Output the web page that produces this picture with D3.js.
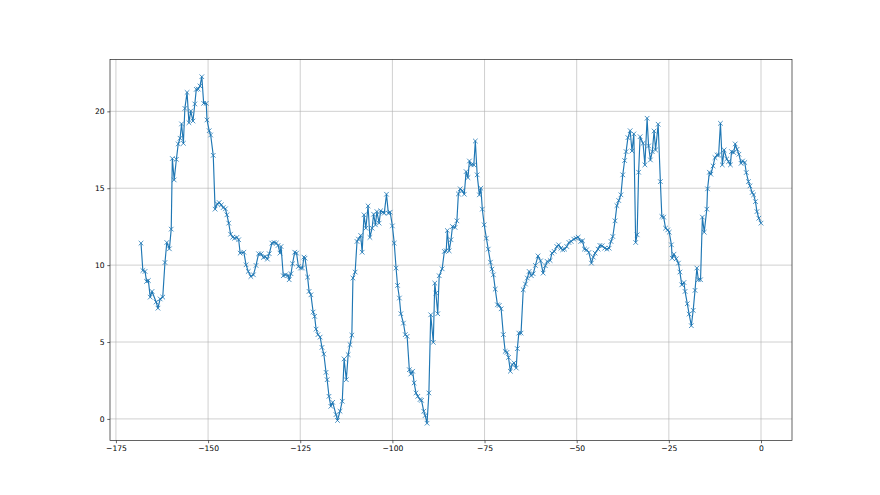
<!DOCTYPE html>
<html>
<head>
<meta charset="utf-8">
<script src="https://cdn.jsdelivr.net/npm/d3@7"></script>
<style>
  body { margin: 0; background: #fff; }
  .tick text { font-family: "DejaVu Sans", sans-serif; font-size: 7.6px; fill: #000; }
</style>
</head>
<body>
<script>
// values
var xs = [-168.2,-167.7,-167.1,-166.7,-166.2,-165.7,-165.2,-164.1,-163.6,-163.0,-162.3,-161.7,-161.2,-160.5,-160.0,-159.7,-159.2,-158.6,-158.1,-157.6,-157.2,-156.7,-156.3,-155.7,-155.2,-154.7,-154.1,-153.6,-153.2,-152.7,-152.2,-151.7,-151.2,-150.5,-150.3,-149.7,-149.3,-148.6,-148.1,-147.5,-147.0,-146.4,-145.9,-145.3,-144.9,-144.4,-143.9,-143.3,-142.8,-142.2,-141.7,-141.3,
  -140.3,-139.7,-139.1,-138.4,-137.7,-137.0,-136.3,-135.6,-135.0,-134.5,-133.9,-133.4,-132.7,-132.1,-131.5,-131.0,-130.5,-130.2,-129.6,-129.0,-128.3,-128.0,-127.5,-127.1,-126.5,-126.0,-125.5,-124.9,-124.4,-124.0,-123.7,-123.0,-122.6,-122.1,-121.5,-121.1,-120.7,-120.2,-119.6,-119.1,-118.6,-118.0,-117.7,-117.2,-116.7,-116.2,-115.3,-114.9,-114.2,
  -113.6,-113.1,-112.5,-112.0,-111.5,-111.0,-110.7,-110.1,-109.6,-109.2,-108.6,-108.2,-107.7,-107.2,-106.6,-106.1,-105.5,-105.1,-104.6,-104.2,-103.6,-103.2,-102.6,-102.2,-101.6,-101.1,-100.6,-100.0,-99.5,-99.0,-98.6,-98.1,-97.7,-97.0,-96.5,-96.0,-95.4,-95.0,-94.5,-94.1,-93.6,-93.1,-92.5,-92.1,-91.5,-91.1,-90.6,-90.1,-89.6,-88.9,-88.5,-88.2,-87.7,-87.3,
  -86.5,-85.9,-85.4,-85.1,-84.6,-84.1,-83.7,-83.0,-82.5,-82.1,-81.6,-81.0,-80.5,-80.0,-79.5,-79.1,-78.6,-77.9,-77.5,-77.0,-76.4,-76.0,-75.6,-75.1,-74.5,-74.0,-73.4,-73.0,-72.6,-72.1,-71.5,-71.0,-70.5,-69.9,-69.4,-68.9,-68.5,-68.0,-67.5,-67.0,-66.4,-66.1,-65.7,-65.1,-64.5,-63.9,-63.4,-62.9,-62.3,-61.8,-61.2,-60.5,
  -59.8,-59.1,-58.5,-58.0,-57.2,-56.7,-56.1,-55.4,-54.9,-54.3,-53.8,-53.3,-52.7,-52.1,-51.5,-50.8,-50.2,-49.6,-48.9,-48.4,-47.9,-47.3,-46.7,-46.0,-45.5,-45.0,-44.2,-43.7,-43.1,-42.4,-41.8,-41.2,-40.7,-40.2,-39.6,-39.1,-38.6,-38.0,-37.5,-37.0,-36.6,-36.1,-35.5,-35.0,-34.5,-34.0,-33.6,-33.2,-32.8,
  -32.0,-31.5,-30.9,-30.5,-30.0,-29.5,-29.0,-28.6,-27.9,-27.3,-26.9,-26.4,-25.9,-25.3,-24.9,-24.3,-24.1,-23.6,-23.0,-22.4,-22.0,-21.5,-20.9,-20.6,-20.0,-19.5,-18.9,-18.4,-17.9,-17.4,-17.0,-16.4,-15.9,-15.4,-14.7,-14.5,-14.0,-13.6,-13.0,-12.5,-11.9,-11.5,-11.0,-10.5,-10.0,-9.3,-8.8,-8.3,-8.0,-7.4,-7.0,-6.5,-6.0,-5.4,-5.0,-4.4,-4.0,-3.4,-3.0,-2.4,-2.0,-1.5,-1.1,-0.6,0.0];

var ys = [11.43,9.65,9.59,8.94,9.0,7.92,8.29,7.6,7.2,7.8,7.92,10.17,11.47,11.06,12.34,16.93,15.54,16.88,17.88,18.25,19.18,17.92,20.19,21.23,19.26,20.02,19.37,20.48,21.43,21.45,21.65,22.25,20.52,20.52,19.44,18.74,18.46,17.14,13.64,13.98,14.07,13.92,13.74,13.66,13.27,12.73,12.01,11.82,11.75,11.8,11.65,10.78,
  10.84,10.02,9.59,9.26,9.37,9.98,10.74,10.74,10.5,10.56,10.39,10.74,11.43,11.47,11.43,11.28,10.78,11.21,9.31,9.37,9.33,9.05,9.44,10.09,10.84,10.78,9.91,9.81,9.81,10.52,10.45,9.22,8.29,8.07,6.95,6.67,5.84,5.48,5.32,4.65,4.22,3.03,2.55,1.47,0.82,1.08,0.28,-0.1,0.5,
  1.15,3.9,2.55,4.18,4.83,5.45,9.16,9.55,11.54,11.69,11.93,10.84,13.27,12.4,13.85,11.8,12.4,13.31,12.62,13.48,12.73,13.53,13.44,13.38,14.61,13.38,13.44,12.55,11.43,9.81,8.68,7.86,6.84,6.23,5.48,5.37,3.2,2.92,3.1,2.34,1.69,1.47,1.26,1.21,0.5,0.22,-0.28,1.69,6.77,4.98,8.83,8.18,6.84,9.31,
  9.76,10.89,10.93,12.25,10.93,11.65,12.51,12.45,12.88,14.63,14.96,14.83,14.61,16.08,15.69,16.77,16.52,16.52,18.07,15.87,14.57,15.0,13.64,12.62,11.75,11.04,10.19,9.74,9.37,8.44,7.42,7.38,7.16,5.48,4.39,4.33,4.0,3.1,3.53,3.64,3.31,4.57,5.58,5.58,8.4,8.77,9.16,9.59,9.31,9.44,9.98,10.6,
  10.28,9.48,9.96,10.24,10.3,10.78,10.89,11.21,11.32,11.1,11.0,11.04,11.21,11.47,11.54,11.69,11.75,11.82,11.54,11.58,11.04,11.0,10.82,10.13,10.52,10.78,11.04,11.28,11.26,11.1,11.04,11.1,11.54,11.86,12.88,13.87,14.2,14.57,15.87,16.8,17.38,18.29,18.74,17.42,18.53,11.47,11.97,16.04,18.35,
  17.92,16.52,19.55,17.75,16.84,17.38,18.72,17.49,19.16,15.43,13.16,13.12,12.4,12.29,12.14,11.32,10.45,10.71,10.41,10.13,9.55,8.72,8.87,8.29,7.49,6.82,6.06,7.06,8.36,9.81,9.05,9.05,13.12,12.14,13.64,14.96,16.04,15.91,16.45,16.99,17.16,17.16,19.22,16.52,17.49,16.9,16.73,16.52,17.38,17.32,17.88,17.53,17.21,16.62,16.77,16.67,16.02,15.43,15.15,14.72,14.57,14.13,13.48,13.05,12.73];

var xTicks = [-175, -150, -125, -100, -75, -50, -25, 0];
var yTicks = [0, 5, 10, 15, 20];

var W = 880, H = 495;
var margin = {top: 59.4, right: 88, bottom: 54.45, left: 110},
    width = W - margin.left - margin.right,
    height = H - margin.top - margin.bottom;

var data = xs.map(function(x, i) { return {x: x, y: ys[i]}; });

// matplotlib-like 5% padding
function padded(ext) {
  var d = (ext[1] - ext[0]) * 0.05;
  return [ext[0] - d, ext[1] + d];
}

var x = d3.scaleLinear().domain(padded(d3.extent(xs))).range([0, width]);
var y = d3.scaleLinear().domain(padded(d3.extent(ys))).range([height, 0]);

var svg = d3.select("body").append("svg")
    .attr("width", W)
    .attr("height", H);

svg.append("rect").attr("width", W).attr("height", H).attr("fill", "#fff");

var g = svg.append("g")
    .attr("transform", "translate(" + margin.left + "," + margin.top + ")");

// grid
g.append("g").selectAll("line")
    .data(xTicks)
  .enter().append("line")
    .attr("x1", function(d) { return x(d); })
    .attr("x2", function(d) { return x(d); })
    .attr("y1", 0).attr("y2", height)
    .attr("stroke", "#b0b0b0").attr("stroke-width", 0.6);

g.append("g").selectAll("line")
    .data(yTicks)
  .enter().append("line")
    .attr("y1", function(d) { return y(d); })
    .attr("y2", function(d) { return y(d); })
    .attr("x1", 0).attr("x2", width)
    .attr("stroke", "#b0b0b0").attr("stroke-width", 0.6);

var fmt = d3.format("d");

var xAxis = g.append("g")
    .attr("transform", "translate(0," + height + ")")
    .call(d3.axisBottom(x).tickValues(xTicks).tickFormat(fmt).tickSize(2.7).tickPadding(2.7));
var yAxis = g.append("g")
    .call(d3.axisLeft(y).tickValues(yTicks).tickFormat(fmt).tickSize(2.7).tickPadding(2.7));

[xAxis, yAxis].forEach(function(a) {
  a.select(".domain").remove();
  a.selectAll(".tick line").attr("stroke", "#000").attr("stroke-width", 0.6);
});

// line
var line = d3.line()
    .x(function(d) { return x(d.x); })
    .y(function(d) { return y(d.y); });

g.append("path")
    .datum(data)
    .attr("fill", "none")
    .attr("stroke", "#1f77b4")
    .attr("stroke-width", 1.15)
    .attr("stroke-linejoin", "round")
    .attr("d", line);

// x markers
var m = 2.3;
g.append("g").selectAll("path")
    .data(data)
  .enter().append("path")
    .attr("transform", function(d) { return "translate(" + x(d.x) + "," + y(d.y) + ")"; })
    .attr("d", "M" + (-m) + "," + (-m) + "L" + m + "," + m + "M" + (-m) + "," + m + "L" + m + "," + (-m))
    .attr("stroke", "#1f77b4")
    .attr("stroke-width", 0.8)
    .attr("fill", "none");

// frame
g.append("rect")
    .attr("width", width).attr("height", height)
    .attr("fill", "none")
    .attr("stroke", "#222").attr("stroke-width", 0.7);
</script>
</body>
</html>
